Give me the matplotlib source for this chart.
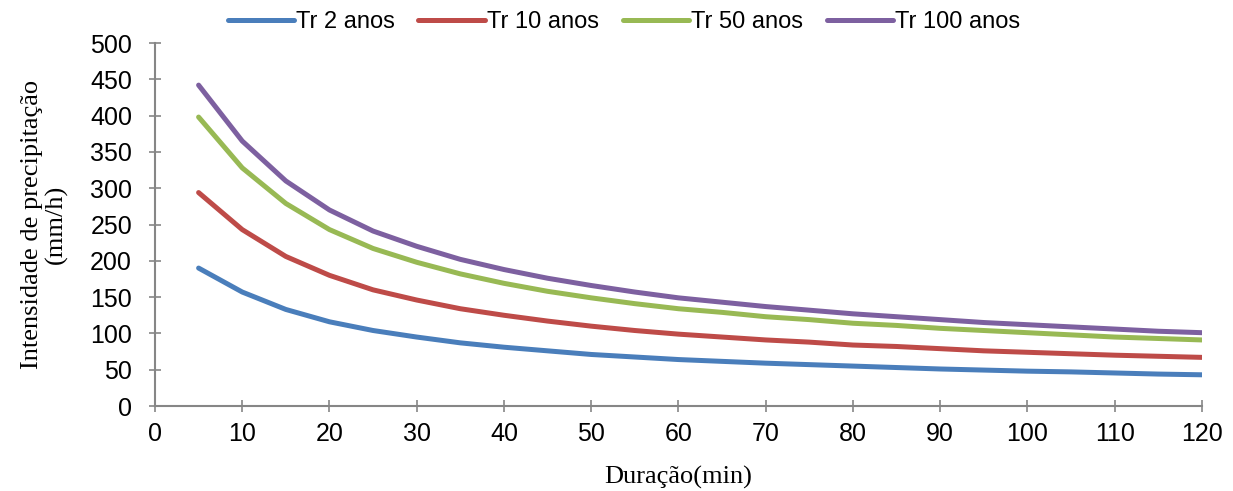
import numpy as np
import matplotlib.pyplot as plt

# duration (min) and rainfall intensity (mm/h) for each return period
duracao = [5, 10, 15, 20, 25, 30, 35, 40, 45, 50, 55, 60,
           65, 70, 75, 80, 85, 90, 95, 100, 105, 110, 115, 120]
tr2 = [190, 157, 133, 116, 104, 95, 87, 81, 76, 71, 67.5, 64,
       61.5, 59, 57, 55, 53, 51, 49.5, 48, 47, 45.5, 44, 43]
tr10 = [294, 243, 206, 180, 160, 146, 134, 125, 117, 110, 104, 99,
        95, 91, 88, 84, 82, 79, 76, 74, 72, 70, 68.5, 67]
tr50 = [398, 328, 279, 243, 217, 198, 182, 169, 158, 149, 141, 134,
        129, 123, 119, 114, 111, 107, 104, 101, 98, 95, 93, 91]
tr100 = [442, 365, 310, 270, 241, 220, 202, 188, 176, 166, 157, 149,
         143, 137, 132, 127, 123, 119, 115, 112, 109, 106, 103, 101]

series = [('Tr 2 anos', tr2, '#4A7EBB'),
          ('Tr 10 anos', tr10, '#BE4B48'),
          ('Tr 50 anos', tr50, '#98B954'),
          ('Tr 100 anos', tr100, '#7D60A0')]

fig = plt.figure(figsize=(12.33, 4.91), dpi=100)
ax = fig.add_axes([0.1257, 0.1731, 0.849, 0.7393])

for name, vals, color in series:
    ax.plot(duracao, vals, color=color, lw=3.6, label=name,
            solid_capstyle='round', solid_joinstyle='round')

ax.set_xlim(0, 120)
ax.set_ylim(0, 500)
ax.set_xticks(np.arange(0, 121, 10))
ax.set_yticks(np.arange(0, 501, 50))
ax.tick_params(direction='inout', length=9, width=1.2, color='#868686',
               labelsize=18)
ax.tick_params(axis='y', pad=12)
ax.tick_params(axis='x', pad=7)
for lab in ax.get_xticklabels() + ax.get_yticklabels():
    lab.set_family('Liberation Sans')

for side in ['top', 'right']:
    ax.spines[side].set_visible(False)
for side in ['left', 'bottom']:
    ax.spines[side].set_color('#868686')
    ax.spines[side].set_linewidth(1.5)

ax.set_xlabel('Duração(min)', family='Liberation Serif', fontsize=19, labelpad=14)
ax.set_ylabel('Intensidade de precipitação\n(mm/h)', family='Liberation Serif',
              fontsize=19, labelpad=16, linespacing=1.1)

fig.legend(loc='center', bbox_to_anchor=(0.506, 0.955), ncol=4, frameon=False,
           handlelength=2.8, handletextpad=0.1, columnspacing=1.0,
           prop={'family': 'Liberation Sans', 'size': 17})

fig.savefig('out.png', dpi=100)
